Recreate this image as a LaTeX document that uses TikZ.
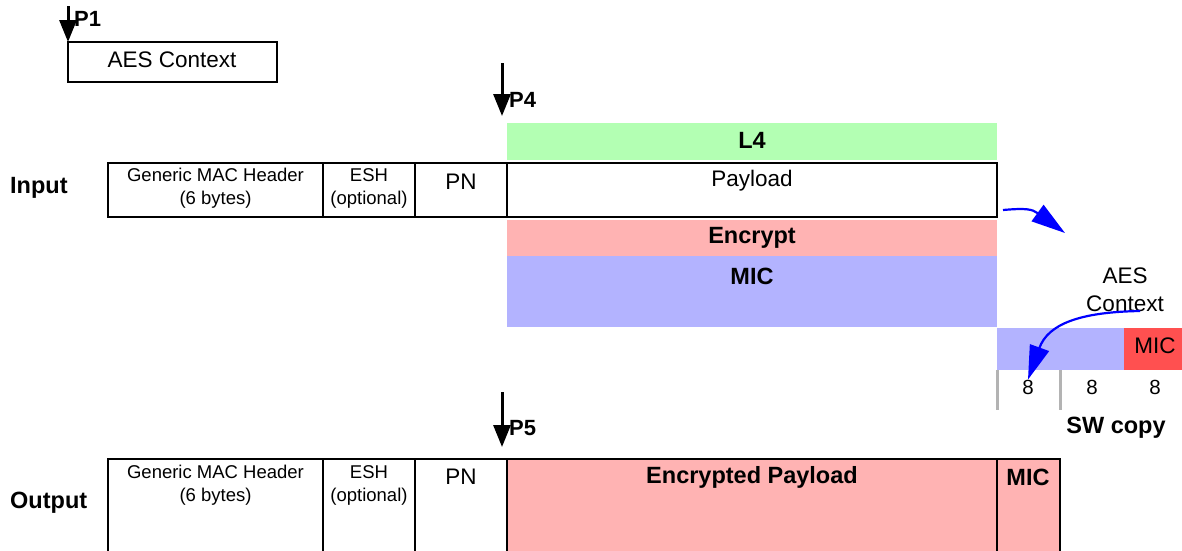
\documentclass[tikz,border=0pt]{standalone}
\usepackage{fontspec}
\setmainfont{Liberation Sans}
\usetikzlibrary{arrows.meta}
\definecolor{lfour}{HTML}{B3FFB3}
\definecolor{encr}{HTML}{FFB3B3}
\definecolor{micb}{HTML}{B3B3FF}
\definecolor{micr}{HTML}{FF5050}
\definecolor{tickg}{HTML}{B3B3B3}
\tikzset{
  cell/.style={draw, line width=1.8pt, anchor=north west, inner sep=0pt, outer sep=0pt},
  band/.style={anchor=north west, inner sep=0pt, outer sep=0pt},
  lbl/.style={font=\fontsize{22.5}{27}\selectfont, inner sep=0pt},
  sml/.style={font=\fontsize{18.5}{23}\selectfont, inner sep=0pt, align=center},
  num/.style={font=\fontsize{20.5}{24}\selectfont, inner sep=0pt},
  bld/.style={font=\bfseries\fontsize{23.5}{28}\selectfont, inner sep=0pt},
  ptrlbl/.style={font=\bfseries\fontsize{22}{26}\selectfont, inner sep=0pt, anchor=west},
  ptr/.style={line width=3pt, -{Triangle[length=22pt,width=17pt]}},
  bluearr/.style={blue, line width=2.2pt, -{Triangle[length=34pt,width=20pt]}},
  tick/.style={tickg, line width=3pt}
}
\begin{document}
\begin{tikzpicture}[x=1pt,y=-1pt]
\useasboundingbox (0,0) rectangle (1182,550);
\clip (0,0) rectangle (1182,550);

% AES context block and pointer P1
\node[cell, minimum width=209pt, minimum height=40pt] (aes) at (68,42) {};
\node[lbl] (aestxt) at (172,60) {AES Context};
\coordinate (p1top) at (68,6);
\draw[ptr] (p1top) -- (aes.north west);
\node[ptrlbl] (p1) at (74,19) {P1};

% input frame
\node[band, fill=lfour, minimum width=490pt, minimum height=37pt] (l4) at (507,123) {};
\node[band, fill=encr, minimum width=490pt, minimum height=36pt] (enc) at (507,220) {};
\node[band, fill=micb, minimum width=490pt, minimum height=71pt] (mic) at (507,256) {};
\node[cell, minimum width=215pt, minimum height=54pt] (hdr) at (108,163) {};
\node[cell, minimum width=92pt, minimum height=54pt] (esh) at (323,163) {};
\node[cell, minimum width=92pt, minimum height=54pt] (pn) at (415,163) {};
\node[cell, minimum width=490pt, minimum height=54pt] (pay) at (507,163) {};

\node[bld] (l4txt) at (752,140) {L4};
\node[bld, anchor=west] (intxt) at (10,188) {Input};
\node[sml] (hdrtxt) at (215.5,188) {Generic MAC Header\\(6 bytes)};
\node[sml] (eshtxt) at (369,188) {ESH\\(optional)};
\node[lbl] (pntxt) at (461,182) {PN};
\node[lbl] (paytxt) at (752,181) {Payload};
\node[bld] (enctxt) at (752,238) {Encrypt};
\node[bld] (mictxt) at (752,276) {MIC};

% pointer P4
\coordinate (p4top) at (502,63);
\coordinate (p4tip) at (502,116);
\draw[ptr] (p4top) -- (p4tip);
\node[ptrlbl] (p4) at (509,100) {P4};

% software copy of the MIC
\node[band, fill=micb, minimum width=127pt, minimum height=42pt] (swblk) at (997,328) {};
\node[band, fill=micr, minimum width=58pt, minimum height=42pt] (swmic) at (1124,328) {};
\node[lbl] (swmictxt) at (1155,346) {MIC};
\draw[tick] (997,370) -- (997,410);
\draw[tick] (1060,370) -- (1060,410);
\node[num] (b1) at (1028,387) {8};
\node[num] (b2) at (1092,387) {8};
\node[num] (b3) at (1155,387) {8};
\node[bld] (swtxt) at (1116,428) {SW copy};
\node[lbl, align=center, font=\fontsize{22.5}{28}\selectfont] (ctx) at (1125,290) {AES\\Context};

% flow arrows
\coordinate (out1) at (1003,210);
\coordinate (tip1) at (1065,233);
\draw[bluearr] (out1) .. controls (1026,208) and (1032,209) .. (tip1);
\coordinate (ctxend) at (1140,311);
\draw[bluearr] (ctxend) .. controls (1080,312) and (1048,324) .. (b1.north);

% pointer P5
\coordinate (p5top) at (502,392);
\coordinate (p5tip) at (502,447);
\draw[ptr] (p5top) -- (p5tip);
\node[ptrlbl] (p5) at (509,428) {P5};

% output frame
\node[cell, minimum width=215pt, minimum height=100pt] (ohdr) at (108,459) {};
\node[cell, minimum width=92pt, minimum height=100pt] (oesh) at (323,459) {};
\node[cell, minimum width=92pt, minimum height=100pt] (opn) at (415,459) {};
\node[cell, fill=encr, minimum width=490pt, minimum height=100pt] (opay) at (507,459) {};
\node[cell, fill=encr, minimum width=63pt, minimum height=100pt] (omic) at (997,459) {};

\node[bld, anchor=west] (outtxt) at (10,503) {Output};
\node[sml] (ohdrtxt) at (215.5,485) {Generic MAC Header\\(6 bytes)};
\node[sml] (oeshtxt) at (369,485) {ESH\\(optional)};
\node[lbl] (opntxt) at (461,477) {PN};
\node[bld] (opaytxt) at (752,477) {Encrypted Payload};
\node[bld] (omictxt) at (1028,477) {MIC};
\end{tikzpicture}
\end{document}
